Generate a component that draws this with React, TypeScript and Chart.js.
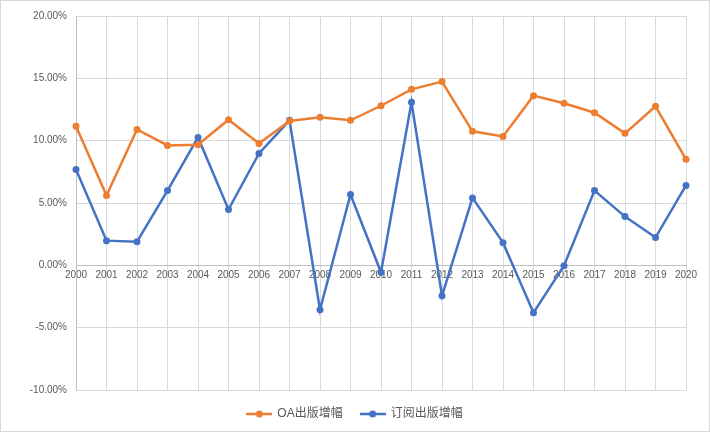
import React, { useEffect, useRef } from "react";
import { Chart, registerables } from "chart.js";

Chart.register(...registerables);

const years = ["2000","2001","2002","2003","2004","2005","2006","2007","2008","2009","2010","2011","2012","2013","2014","2015","2016","2017","2018","2019","2020"];
const oaGrowth = [11.15, 5.6, 10.9, 9.62, 9.67, 11.68, 9.78, 11.58, 11.87, 11.63, 12.8, 14.12, 14.74, 10.75, 10.34, 13.61, 13.0, 12.24, 10.59, 12.76, 8.5];
const subGrowth = [7.69, 1.98, 1.9, 6.0, 10.26, 4.48, 8.98, 11.63, -3.56, 5.68, -0.56, 13.08, -2.44, 5.41, 1.82, -3.8, -0.03, 6.0, 3.91, 2.23, 6.41];
const seriesNames = ["OA出版增幅", "订阅出版增幅"];
const colors = ["#ED7D31", "#4472C4"];

const FONT = '"Liberation Sans", "Noto Sans CJK SC", sans-serif';

function makeMarker(color: string): HTMLCanvasElement {
  const c = document.createElement("canvas");
  c.width = 26;
  c.height = 8;
  const ctx = c.getContext("2d")!;
  ctx.strokeStyle = color;
  ctx.lineWidth = 2.5;
  ctx.beginPath();
  ctx.moveTo(0, 4);
  ctx.lineTo(26, 4);
  ctx.stroke();
  ctx.fillStyle = color;
  ctx.beginPath();
  ctx.arc(13, 4, 3.5, 0, Math.PI * 2);
  ctx.fill();
  return c;
}

export default function App() {
  const ref = useRef<HTMLCanvasElement | null>(null);
  useEffect(() => {
    if (!ref.current) return;
    const markers = colors.map(makeMarker);
    const borderPlugin = {
      id: "outerBorder",
      beforeDraw(chart: any) {
        const ctx = chart.ctx;
        ctx.save();
        ctx.fillStyle = "#ffffff";
        ctx.fillRect(0, 0, chart.width, chart.height);
        ctx.restore();
      },
      afterDraw(chart: any) {
        const ctx = chart.ctx;
        ctx.save();
        ctx.strokeStyle = "#d9d9d9";
        ctx.lineWidth = 1;
        ctx.strokeRect(0.5, 0.5, chart.width - 1, chart.height - 1);
        ctx.restore();
      },
    };
    const chart = new Chart(ref.current, {
      type: "line",
      data: {
        labels: years,
        datasets: [
          {
            label: seriesNames[0],
            data: oaGrowth,
            borderColor: colors[0],
            backgroundColor: colors[0],
            borderWidth: 2.5,
            pointRadius: 3.5,
            pointBorderWidth: 0,
            pointBackgroundColor: colors[0],
            tension: 0,
          },
          {
            label: seriesNames[1],
            data: subGrowth,
            borderColor: colors[1],
            backgroundColor: colors[1],
            borderWidth: 2.5,
            pointRadius: 3.5,
            pointBorderWidth: 0,
            pointBackgroundColor: colors[1],
            tension: 0,
          },
        ],
      },
      options: {
        animation: false,
        responsive: false,
        layout: { padding: { top: 16, right: 0, bottom: 2, left: 0 } },
        plugins: {
          tooltip: { enabled: false },
          legend: {
            position: "bottom",
            labels: {
              usePointStyle: true,
              pointStyleWidth: 24,
              padding: 18,
              color: "#595959",
              font: { family: FONT, size: 12 },
              generateLabels: (chart: any) =>
                chart.data.datasets.map((ds: any, i: number) => ({
                  text: ds.label,
                  fillStyle: colors[i],
                  strokeStyle: colors[i],
                  lineWidth: 0,
                  pointStyle: markers[i],
                  datasetIndex: i,
                  hidden: false,
                  fontColor: "#595959",
                })),
            },
          },
        },
        scales: {
          x: {
            position: { y: 0 } as any,
            offset: false,
            grid: { color: "#d9d9d9", drawTicks: false, tickLength: 0 },
            border: { color: "#bfbfbf", width: 1 },
            ticks: {
              color: "#595959",
              font: { family: FONT, size: 10 },
              padding: 4,
              maxRotation: 0,
              autoSkip: false,
            },
          },
          y: {
            min: -10,
            max: 20,
            afterFit: (scale: any) => {
              scale.width = 76;
            },
            grid: { color: "#d9d9d9", drawTicks: false, tickLength: 0 },
            border: { color: "#bfbfbf", width: 1 },
            ticks: {
              stepSize: 5,
              color: "#595959",
              font: { family: FONT, size: 10 },
              padding: 9,
              callback: (v: any) => Number(v).toFixed(2) + "%",
            },
          },
          yRight: {
            position: "right",
            min: -10,
            max: 20,
            display: true,
            afterFit: (scale: any) => {
              scale.width = 24;
            },
            grid: { display: false, drawTicks: false },
            border: { display: false },
            ticks: { display: false },
          },
        },
      },
      plugins: [borderPlugin],
    });
    return () => chart.destroy();
  }, []);
  return (
    <div style={{ position: "absolute", left: 0, top: 0, width: 710, height: 432 }}>
      <canvas ref={ref} width={710} height={432} style={{ display: "block" }} />
    </div>
  );
}
